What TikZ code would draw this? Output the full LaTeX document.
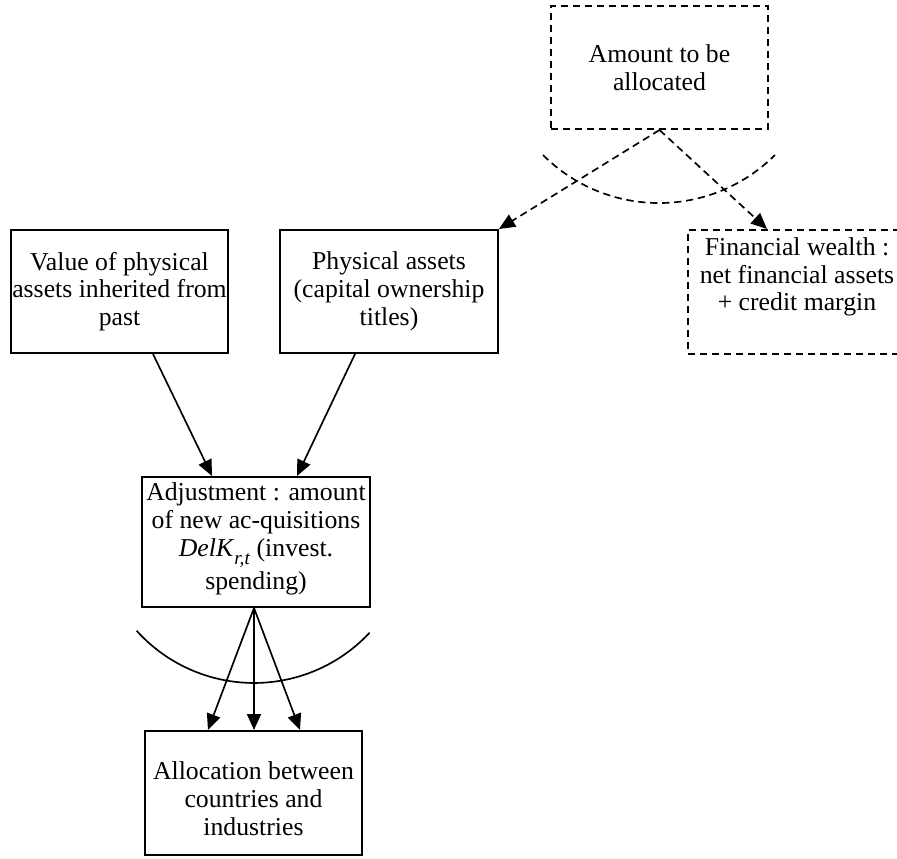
\documentclass[tikz,border=0pt]{standalone}
\usepackage{fontspec}
\setmainfont{Liberation Serif}
\usetikzlibrary{arrows.meta,calc}
\tikzset{
  box/.style={draw, line width=1.5pt, inner sep=0pt, minimum width=162.75pt, minimum height=92.25pt},
  dashpat/.style={dash pattern=on 5.5pt off 3.5pt},
  dbox/.style={box, dashpat},
  txt/.style={align=center, inner sep=0pt, font=\fontsize{19.3pt}{20.8pt}\selectfont},
  arr/.style={line width=1.25pt, -{Triangle[length=12pt,width=10.5pt]}},
  darr/.style={arr, dashpat},
  arcline/.style={line width=1.25pt}
}
\begin{document}
\begin{tikzpicture}[x=0.75pt,y=-0.75pt]
\clip (0,0) rectangle (897,859);
\fill[white] (0,0) rectangle (897,859);

% boxes
\node[dbox] (amount) at (659.5,67.5) {};
\node[txt] (amountT) at (amount.center) {Amount to be\\allocated};

\node[box] (value) at (119.5,291.5) {};
\node[txt] (valueT) at (value.center) {Value of physical\\assets inherited from\\past};

\node[box, minimum width=163.5pt] (phys) at (389,291.5) {};
\node[txt] (physT) at (phys.center) {Physical assets\\(capital ownership\\titles)};

\node[dbox, minimum width=163.5pt, minimum height=93pt] (fin) at (797,292) {};
\node[txt] (finT) at ($(fin.center)+(0,-15)$) {Financial wealth :\\net financial assets\\+ credit margin};

\node[box, minimum width=171pt, minimum height=97.5pt] (adj) at (256,542) {};
\node[txt] (adjT) at ($(adj.center)+(0,-3)$) {Adjustment : amount\\of new ac-quisitions\\\textit{DelK}\raisebox{-0.32em}{\fontsize{14.5pt}{14.5pt}\selectfont\textit{r,t}} (invest.\\[2.5pt]spending)};

\node[box, minimum height=93pt] (alloc) at (253.5,793) {};
\node[txt] (allocT) at ($(alloc.center)+(0,5.5)$) {Allocation between\\countries and\\industries};

% dashed connectors from amount
\draw[darr] (amount.south) -- (phys.north east);
\draw[darr] (amount.south) -- ($(fin.north)+(-30,0)$);

% dashed arc
\coordinate (arcTop) at (543,155);
\draw[arcline, dashpat] (arcTop) arc[start angle=225, end angle=315, radius=123pt];

% solid connectors
\draw[arr] ($(value.south)+(33.5,0)$) -- ($(adj.north)+(-44,0)$);
\draw[arr] ($(phys.south)+(-34,0)$) -- ($(adj.north)+(41,0)$);

\coordinate (adjOut) at ($(adj.south)+(-2,0)$);
\draw[arr] (adjOut) -- ($(alloc.north)+(-45.5,0)$);
\draw[arr] (adjOut) -- ($(alloc.north)+(0.5,0)$);
\draw[arr] (adjOut) -- ($(alloc.north)+(46.5,0)$);

% solid arc
\coordinate (arcBot) at (136.6,630.7);
\draw[arcline] (arcBot) arc[start angle=222, end angle=317, radius=118.5pt];
\end{tikzpicture}
\end{document}
